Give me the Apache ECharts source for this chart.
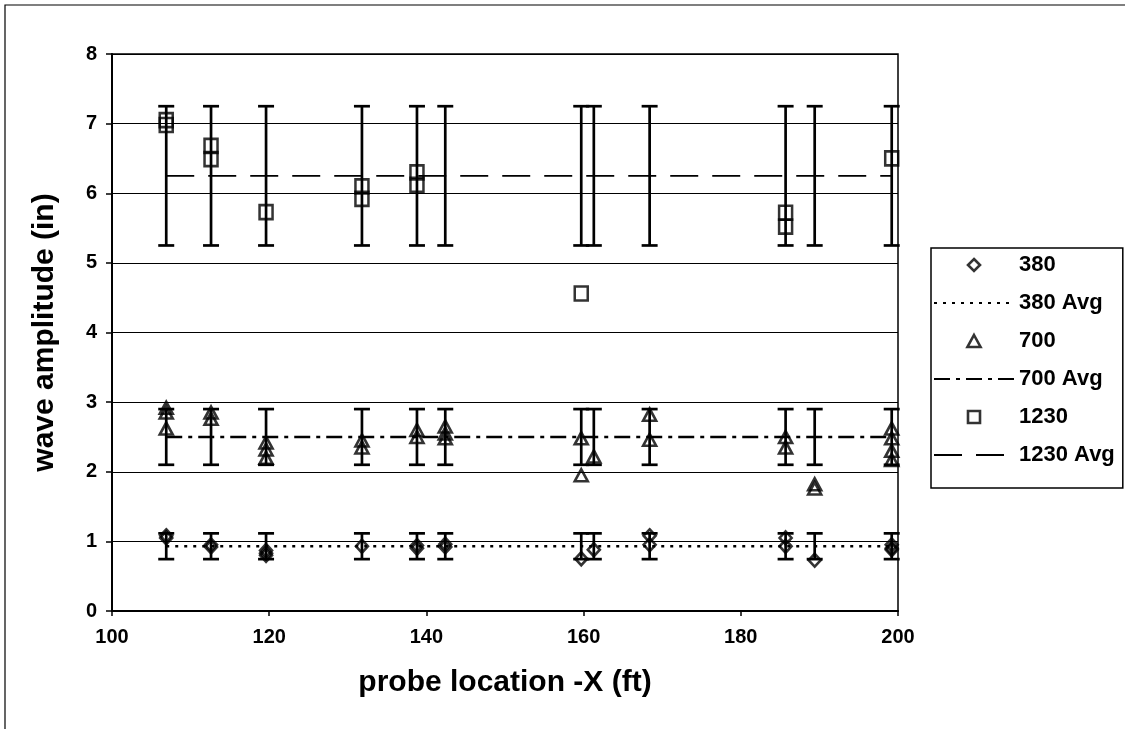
<!DOCTYPE html>
<html>
<head>
<meta charset="utf-8">
<script src="https://cdn.jsdelivr.net/npm/echarts@6/dist/echarts.min.js"></script>
<style>
html,body{margin:0;padding:0;background:#fff;}
#chart{width:1125px;height:729px;}
</style>
</head>
<body>
<div id="chart"></div>
<script>
// ---- data ----
const locations = [106.9, 112.6, 119.6, 131.8, 138.8, 142.4, 159.7, 161.3, 168.4, 185.7, 189.4, 199.2];

const x380 = [106.9, 106.9, 112.6, 112.6, 119.6, 119.6, 119.6, 131.8, 138.8, 138.8, 142.4, 142.4, 159.7, 161.3, 168.4, 168.4, 185.7, 185.7, 189.4, 199.2, 199.2, 199.2];
const y380 = [1.08, 1.05, 0.95, 0.92, 0.87, 0.83, 0.80, 0.93, 0.94, 0.90, 0.96, 0.92, 0.75, 0.88, 1.08, 0.95, 1.05, 0.93, 0.73, 0.95, 0.90, 0.88];

const x700 = [106.9, 106.9, 106.9, 112.6, 112.6, 119.6, 119.6, 119.6, 131.8, 131.8, 138.8, 138.8, 142.4, 142.4, 142.4, 159.7, 159.7, 161.3, 168.4, 168.4, 185.7, 185.7, 189.4, 189.4, 199.2, 199.2, 199.2, 199.2];
const y700 = [2.92, 2.85, 2.62, 2.85, 2.76, 2.42, 2.32, 2.20, 2.45, 2.35, 2.60, 2.50, 2.65, 2.55, 2.48, 2.48, 1.95, 2.22, 2.82, 2.46, 2.50, 2.35, 1.82, 1.76, 2.62, 2.48, 2.30, 2.17];

const x1230 = [106.9, 106.9, 112.6, 112.6, 119.6, 131.8, 131.8, 138.8, 138.8, 159.7, 185.7, 185.7, 199.2];
const y1230 = [7.05, 6.98, 6.68, 6.49, 5.73, 6.10, 5.92, 6.30, 6.12, 4.56, 5.72, 5.52, 6.50];

const avg380 = 0.93, err380 = 0.185;
const avg700 = 2.50, err700 = 0.40;
const avg1230 = 6.25, err1230 = 1.00;

const seriesNames = ['380', '380 Avg', '700', '700 Avg', '1230', '1230 Avg'];
const xTicks = [100, 120, 140, 160, 180, 200];
const yTicks = [0, 1, 2, 3, 4, 5, 6, 7, 8];

// ---- build ----
const FONT = 'Liberation Sans, Arial, sans-serif';
const pairs = (xs, ys) => xs.map((x, i) => [x, ys[i]]);
const avgLine = (v) => locations.map(x => [x, v]);
const errData = (v, e) => locations.map(x => [x, v - e, v + e]);

function errRender(params, api) {
  const x = api.value(0);
  const lo = api.coord([x, api.value(1)]);
  const hi = api.coord([x, api.value(2)]);
  const h = 8;
  const st = {stroke: '#000', lineWidth: 2.7};
  return {type: 'group', children: [
    {type: 'line', shape: {x1: lo[0], y1: lo[1], x2: hi[0], y2: hi[1]}, style: st},
    {type: 'line', shape: {x1: lo[0] - h, y1: lo[1], x2: lo[0] + h, y2: lo[1]}, style: st},
    {type: 'line', shape: {x1: hi[0] - h, y1: hi[1], x2: hi[0] + h, y2: hi[1]}, style: st}
  ]};
}

function errSeries(name, v, e) {
  return {
    name: name, type: 'custom', renderItem: errRender,
    encode: {x: 0, y: [1, 2]}, data: errData(v, e), z: 2, silent: true
  };
}

const markerStyle = {color: 'rgba(0,0,0,0)', borderColor: '#000', borderWidth: 2.6};
const legendMarker = {color: 'rgba(0,0,0,0)', borderColor: '#000', borderWidth: 2.6};
const noDot = {color: 'rgba(0,0,0,0)', borderWidth: 0};

const ICON_DIAMOND = 'path://M6,0 L12,6 L6,12 L0,6 Z';
const ICON_TRIANGLE = 'path://M6,0 L12,11 L0,11 Z';
const ICON_SQUARE = 'path://M0,0 L12,0 L12,12 L0,12 Z';

const chart = echarts.init(document.getElementById('chart'), null, {renderer: 'canvas'});
chart.setOption({
  animation: false,
  backgroundColor: '#fff',
  grid: {left: 112, right: 227, top: 54, bottom: 118, show: true, borderColor: '#000', borderWidth: 1.5, backgroundColor: 'transparent'},
  xAxis: {
    type: 'value', min: 100, max: 200, interval: 20,
    name: 'probe location -X (ft)', nameLocation: 'middle', nameGap: 57,
    nameTextStyle: {fontFamily: FONT, fontSize: 30, fontWeight: 'bold', color: '#000'},
    axisLine: {show: true, lineStyle: {color: '#000', width: 2}},
    axisTick: {show: true, inside: false, length: 5, lineStyle: {color: '#000', width: 1.5}},
    axisLabel: {fontFamily: FONT, fontSize: 20, fontWeight: 'bold', color: '#000', margin: 16,
      formatter: v => xTicks.includes(v) ? String(v) : ''},
    splitLine: {show: false}
  },
  yAxis: {
    type: 'value', min: 0, max: 8, interval: 1,
    name: 'wave amplitude (in)', nameLocation: 'middle', nameGap: 52,
    nameTextStyle: {fontFamily: FONT, fontSize: 30, fontWeight: 'bold', color: '#000'},
    axisLine: {show: true, lineStyle: {color: '#000', width: 2}},
    axisTick: {show: true, inside: false, length: 6, lineStyle: {color: '#000', width: 1.5}},
    axisLabel: {fontFamily: FONT, fontSize: 20, fontWeight: 'bold', color: '#000', margin: 15,
      formatter: v => yTicks.includes(v) ? String(v) : ''},
    splitLine: {show: true, lineStyle: {color: '#000', width: 1.2}}
  },
  legend: {
    orient: 'vertical', left: 931, top: 248,
    itemWidth: 80, itemHeight: 12, itemGap: 16,
    symbolKeepAspect: true,
    padding: [6, 8, 22, 2],
    borderColor: '#000', borderWidth: 1.5, backgroundColor: '#fff',
    textStyle: {fontFamily: FONT, fontSize: 22, fontWeight: 'bold', color: '#000'},
    data: [
      {name: seriesNames[0], icon: ICON_DIAMOND, itemStyle: legendMarker},
      {name: seriesNames[1]},
      {name: seriesNames[2], icon: ICON_TRIANGLE, itemStyle: legendMarker},
      {name: seriesNames[3]},
      {name: seriesNames[4], icon: ICON_SQUARE, itemStyle: legendMarker},
      {name: seriesNames[5]}
    ]
  },
  series: [
    errSeries('err1230', avg1230, err1230),
    errSeries('err700', avg700, err700),
    errSeries('err380', avg380, err380),
    {name: seriesNames[1], type: 'line', data: avgLine(avg380), symbol: 'none', z: 3, itemStyle: noDot,
      lineStyle: {color: '#000', width: 2.5, type: [3, 6]}},
    {name: seriesNames[3], type: 'line', data: avgLine(avg700), symbol: 'none', z: 3, itemStyle: noDot,
      lineStyle: {color: '#000', width: 2.5, type: [16, 6, 4, 6]}},
    {name: seriesNames[5], type: 'line', data: avgLine(avg1230), symbol: 'none', z: 3, itemStyle: noDot,
      lineStyle: {color: '#000', width: 1.6, type: [28, 14]}},
    {name: seriesNames[0], type: 'scatter', data: pairs(x380, y380), symbol: 'diamond', symbolSize: [12, 13], z: 4,
      itemStyle: markerStyle},
    {name: seriesNames[2], type: 'scatter', data: pairs(x700, y700), symbol: 'triangle', symbolSize: [13, 12], z: 4,
      itemStyle: markerStyle},
    {name: seriesNames[4], type: 'scatter', data: pairs(x1230, y1230), symbol: 'rect', symbolSize: [13, 14], z: 4,
      itemStyle: markerStyle}
  ],
  graphic: [
    {type: 'rect', shape: {x: 5, y: 5, width: 1140, height: 740}, style: {fill: 'none', stroke: '#000', lineWidth: 1.2}, z: 0, silent: true}
  ]
});
</script>
</body>
</html>
